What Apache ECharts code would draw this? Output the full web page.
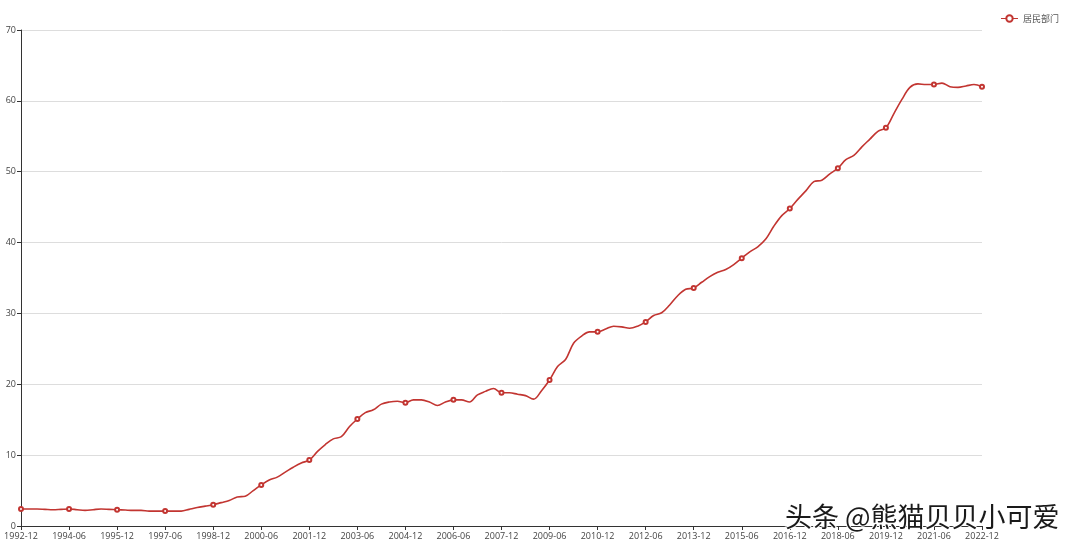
<!DOCTYPE html>
<html>
<head>
<meta charset="utf-8">
<script src="https://cdn.jsdelivr.net/npm/echarts@6/dist/echarts.min.js"></script>
<style>html,body{margin:0;padding:0;background:#fff}#c{width:1080px;height:550px}</style>
</head>
<body>
<div id="c"></div>
<script>
// quarterly categories 1992-12 .. 2022-12
const categories = [];
(function(){
  const ms = ['03','06','09','12'];
  categories.push('1992-12');
  for (let y = 1993; y <= 2022; y++) for (const m of ms) categories.push(y + '-' + m);
})();
const seriesName = '居民部门';
const values = [
  2.4, 2.4, 2.4, 2.35, 2.3, 2.35, 2.4, 2.3, 2.2, 2.3,
  2.4, 2.35, 2.3, 2.25, 2.2, 2.2, 2.1, 2.1, 2.1, 2.1,
  2.1, 2.35, 2.6, 2.8, 3.0, 3.3, 3.6, 4.1, 4.2, 5.0,
  5.8, 6.5, 6.9, 7.6, 8.3, 8.9, 9.3, 10.5, 11.5, 12.3,
  12.6, 14.0, 15.1, 16.0, 16.4, 17.2, 17.5, 17.6, 17.4, 17.8,
  17.8, 17.5, 17.0, 17.5, 17.8, 17.8, 17.5, 18.5, 19.0, 19.4,
  18.8, 18.8, 18.6, 18.4, 17.9, 19.1, 20.6, 22.5, 23.5, 25.8,
  26.8, 27.4, 27.4, 27.8, 28.2, 28.1, 27.9, 28.2, 28.8, 29.7,
  30.1, 31.2, 32.5, 33.4, 33.6, 34.4, 35.2, 35.8, 36.2, 36.9,
  37.8, 38.7, 39.4, 40.5, 42.3, 43.8, 44.8, 46.1, 47.3, 48.6,
  48.8, 49.7, 50.5, 51.7, 52.3, 53.5, 54.6, 55.7, 56.2, 58.2,
  60.2, 61.9, 62.4, 62.3, 62.3, 62.5, 62.0, 61.9, 62.1, 62.3,
  62.0
];
const watermark = '头条 @熊猫贝贝小可爱';

const chart = echarts.init(document.getElementById('c'));
chart.setOption({
  animation: false,
  color: ['#c23531'],
  grid: { left: 21, right: 98, top: 30, bottom: 24, containLabel: false },
  legend: {
    data: [seriesName], right: 16, top: 9,
    itemWidth: 17, itemHeight: 8, itemGap: 6,
    lineStyle: { width: 1 },
    textStyle: { fontSize: 9, color: '#555', fontFamily: 'Noto Sans CJK SC' }
  },
  xAxis: {
    type: 'category', data: categories, boundaryGap: false,
    axisLine: { lineStyle: { color: '#333' } },
    axisTick: { interval: 5, length: 4 },
    axisLabel: { interval: 5, fontSize: 9, color: '#444', margin: 6, fontFamily: 'Open Sans' },
    splitLine: { show: false }
  },
  yAxis: {
    type: 'value', min: 0, max: 70, interval: 10,
    axisLine: { show: true, lineStyle: { color: '#333' } },
    axisTick: { show: true, length: 4 },
    axisLabel: { fontSize: 9, color: '#444', margin: 5, fontFamily: 'Open Sans' },
    splitLine: { lineStyle: { color: '#ddd' } }
  },
  series: [{
    name: seriesName, type: 'line', data: values, smooth: 0.35,
    symbol: 'emptyCircle', symbolSize: 4, showAllSymbol: false,
    itemStyle: { borderWidth: 0.8 },
    lineStyle: { width: 1.6 }
  }],
  graphic: [{
    type: 'text', left: 784, top: 502, z: 100,
    style: {
      text: watermark, fontSize: 27, fontFamily: 'Noto Sans CJK SC',
      fill: '#1a1a1a', stroke: '#fff', lineWidth: 2
    }
  }]
});
</script>
</body>
</html>
